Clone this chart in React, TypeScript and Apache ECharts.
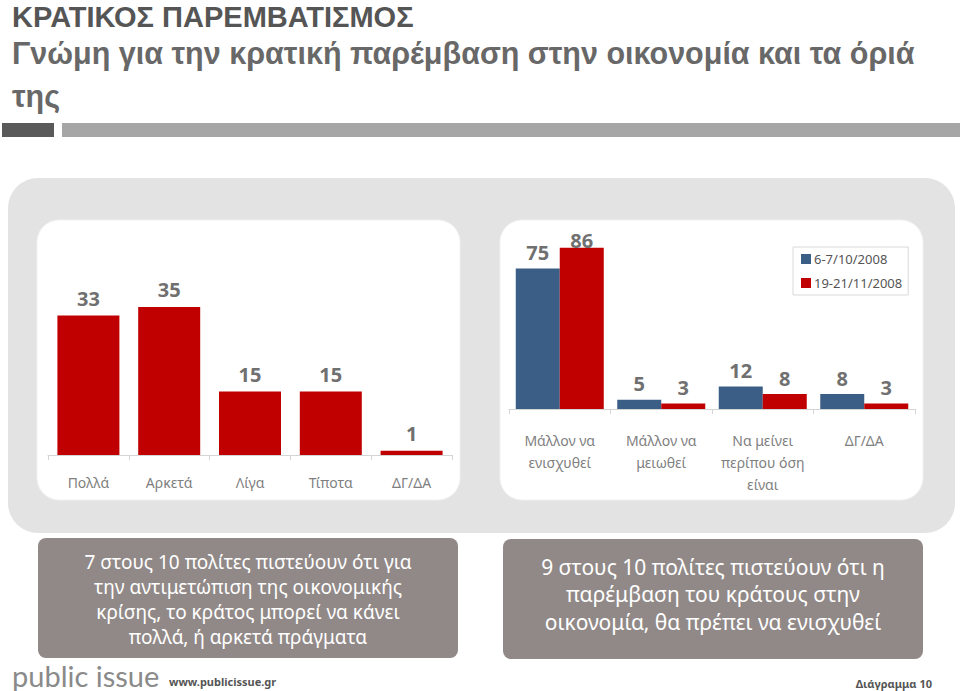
import React, { useEffect, useRef } from "react";
import * as echarts from "echarts";

const titleLines = ["ΚΡΑΤΙΚΟΣ ΠΑΡΕΜΒΑΤΙΣΜΟΣ", "Γνώμη για την κρατική παρέμβαση στην οικονομία και τα όριά", "της"];
const leftCategories = ["Πολλά", "Αρκετά", "Λίγα", "Τίποτα", "ΔΓ/ΔΑ"];
const leftValues = [33, 35, 15, 15, 1];
const rightCategories = ["Μάλλον να\nενισχυθεί", "Μάλλον να\nμειωθεί", "Να μείνει\nπερίπου όση\nείναι", "ΔΓ/ΔΑ"];
const seriesNames = ["6-7/10/2008", "19-21/11/2008"];
const octValues = [75, 5, 12, 8];
const novValues = [86, 3, 8, 3];
const leftNote = "7 στους 10 πολίτες πιστεύουν ότι για\nτην αντιμετώπιση της οικονομικής\nκρίσης, το κράτος μπορεί να κάνει\nπολλά, ή αρκετά πράγματα";
const rightNote = "9 στους 10 πολίτες πιστεύουν ότι η\nπαρέμβαση του κράτους στην\nοικονομία, θα πρέπει να ενισχυθεί";
const footerBrand = "public issue";
const footerUrl = "www.publicissue.gr";
const footerPage = "Διάγραμμα 10";

const RED = "#c00000";
const BLUE = "#3b5e86";
const FONT = '"Noto Sans", "Open Sans", sans-serif';
const TITLE_FONT = '"Liberation Sans", Arial, sans-serif';

export default function App() {
  const ref = useRef<HTMLDivElement>(null);
  useEffect(() => {
    document.body.style.margin = "0";
    const chart = echarts.init(ref.current!, null, { renderer: "svg" });
    const valueLabel = (d: number) => ({
      show: true,
      position: "top",
      distance: d,
      color: "#707070",
      fontSize: 20,
      fontWeight: "bold",
      fontFamily: FONT,
    });
    const axisCommon = {
      axisLine: { show: true, lineStyle: { color: "#d4d4d4", width: 1 } },
      axisTick: { show: true, length: 5, lineStyle: { color: "#d4d4d4" } },
    };
    const titleText = (text: string, y: number, size: number, fill: string) => ({
      type: "text",
      style: { text, x: 12, y, textVerticalAlign: "middle", fill, fontSize: size, lineHeight: size, fontWeight: "bold", fontFamily: TITLE_FONT },
    });
    chart.setOption({
      animation: false,
      backgroundColor: "#ffffff",
      textStyle: { fontFamily: FONT },
      graphic: [
        titleText(titleLines[0], 16.6, 29, "#555555"),
        titleText(titleLines[1], 52.6, 30.5, "#686868"),
        titleText(titleLines[2], 95.6, 30.5, "#686868"),
        { type: "rect", shape: { x: 2, y: 123, width: 52, height: 14 }, style: { fill: "#5a5a5a" } },
        { type: "rect", shape: { x: 62, y: 123, width: 898, height: 14 }, style: { fill: "#a6a6a6" } },
        { type: "rect", shape: { x: 8, y: 178, width: 947, height: 355, r: 30 }, style: { fill: "#e3e3e3" } },
        { type: "rect", shape: { x: 37, y: 220, width: 423, height: 280, r: 22 }, style: { fill: "#ffffff", stroke: "#f2f2f2", lineWidth: 1 } },
        { type: "rect", shape: { x: 500, y: 220, width: 423, height: 280, r: 22 }, style: { fill: "#ffffff", stroke: "#f2f2f2", lineWidth: 1 } },
        { type: "rect", shape: { x: 38, y: 538, width: 420, height: 120, r: 8 }, style: { fill: "#918987" } },
        { type: "rect", shape: { x: 503, y: 539, width: 420, height: 120, r: 8 }, style: { fill: "#918987" } },
        { type: "text", style: { text: leftNote, x: 248, y: 599, textAlign: "center", textVerticalAlign: "middle", fill: "#ffffff", fontSize: 19, lineHeight: 25, fontFamily: FONT } },
        { type: "text", style: { text: rightNote, x: 713, y: 594, textAlign: "center", textVerticalAlign: "middle", fill: "#ffffff", fontSize: 21, lineHeight: 27.5, fontFamily: FONT } },
        { type: "text", style: { text: footerBrand, x: 12, y: 675, textVerticalAlign: "middle", fill: "#8a8a8a", fontSize: 29, lineHeight: 30, fontFamily: 'Lato, "Noto Sans", sans-serif' } },
        { type: "text", style: { text: footerUrl, x: 169, y: 681, textVerticalAlign: "middle", fill: "#555555", fontSize: 11, fontWeight: "bold", fontFamily: FONT } },
        { type: "text", style: { text: footerPage, x: 932, y: 683, textAlign: "right", textVerticalAlign: "middle", fill: "#555555", fontSize: 11, fontWeight: "bold", fontFamily: FONT } },
      ],
      legend: {
        show: true,
        data: seriesNames,
        orient: "vertical",
        left: 793,
        top: 247,
        padding: [3, 6, 3, 8],
        itemGap: 6,
        itemWidth: 10,
        itemHeight: 10,
        icon: "rect",
        borderColor: "#d9d9d9",
        borderWidth: 1,
        backgroundColor: "#ffffff",
        textStyle: { color: "#555555", fontSize: 13, lineHeight: 18, fontFamily: FONT, padding: [0, 0, 0, -2] },
      },
      grid: [
        { left: 48, right: 508, top: 285.8, bottom: 236, containLabel: false },
        { left: 509, right: 45, top: 221.5, bottom: 282, containLabel: false },
      ],
      xAxis: [
        {
          type: "category",
          gridIndex: 0,
          data: leftCategories,
          ...axisCommon,
          axisLabel: { color: "#7f7f7f", fontSize: 14, margin: 20, interval: 0, fontFamily: FONT },
        },
        {
          type: "category",
          gridIndex: 1,
          data: rightCategories,
          ...axisCommon,
          axisLabel: { color: "#7f7f7f", fontSize: 14, margin: 20, interval: 0, lineHeight: 22, fontFamily: FONT },
        },
      ],
      yAxis: [
        { type: "value", gridIndex: 0, min: 0, max: 40, show: false },
        { type: "value", gridIndex: 1, min: 0, max: 100, show: false },
      ],
      series: [
        {
          type: "bar",
          name: "left",
          xAxisIndex: 0,
          yAxisIndex: 0,
          data: leftValues,
          barWidth: 62,
          itemStyle: { color: RED },
          label: valueLabel(7),
        },
        {
          type: "bar",
          name: seriesNames[0],
          xAxisIndex: 1,
          yAxisIndex: 1,
          data: octValues,
          barWidth: 44,
          barGap: "0%",
          itemStyle: { color: BLUE },
          label: valueLabel(6),
        },
        {
          type: "bar",
          name: seriesNames[1],
          xAxisIndex: 1,
          yAxisIndex: 1,
          data: novValues.map((v, i) => (i === 0 ? { value: v, label: { distance: -3 } } : v)),
          barWidth: 44,
          barGap: "0%",
          itemStyle: { color: RED },
          label: valueLabel(6),
        },
      ],
    });
    return () => chart.dispose();
  }, []);
  return <div ref={ref} style={{ position: "absolute", left: 0, top: 0, width: 960, height: 691 }} />;
}
